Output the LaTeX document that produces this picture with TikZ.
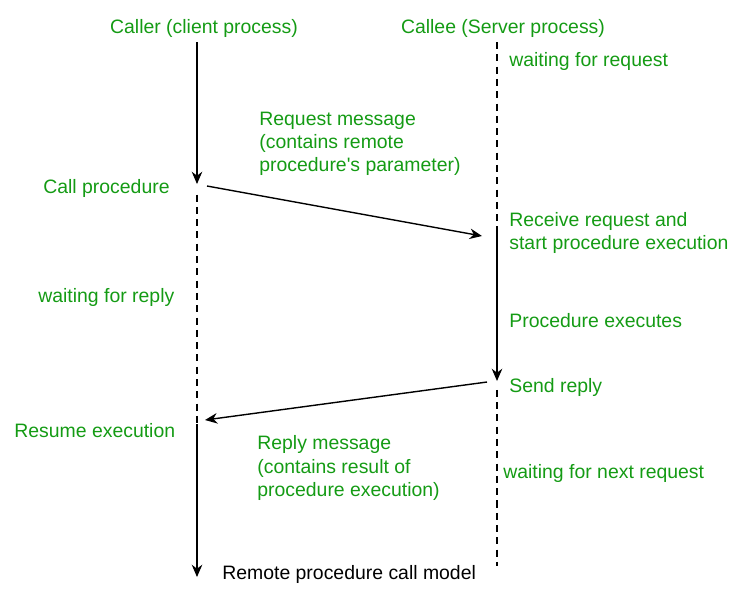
\documentclass[tikz,border=0pt]{standalone}
\usepackage{fontspec}
\setmainfont{Liberation Sans}
\usetikzlibrary{positioning,arrows.meta}
\definecolor{green}{RGB}{20,155,20}

\begin{document}
\begin{tikzpicture}[x=0.02cm,y=-0.02cm,
    lbl/.style={green,anchor=west,inner sep=0pt,align=left,font=\fontsize{11.05}{13.2}\selectfont},
    tip/.style={-{Stealth[length=7pt,width=6pt]}},
    life/.style={black,line width=0.8pt},
    wait/.style={black,line width=0.8pt,dash pattern=on 4pt off 3pt},
    msg/.style={tip,black,line width=0.8pt}]
    \useasboundingbox (0,0) rectangle (739,593);

    % lifelines
    \coordinate (callertop) at (197,42);
    \coordinate (callercall) at (197,184);
    \coordinate (callerresume) at (197,424);
    \coordinate (callerend) at (197,577);
    \coordinate (calleetop) at (497,42);
    \coordinate (calleerecv) at (497,232);
    \coordinate (calleesend) at (497,381);
    \coordinate (calleeend) at (497,566);

    \draw[life,tip] (callertop) -- (callercall);
    \draw[wait] ([yshift=-6]callercall) -- (callerresume);
    \draw[life,tip] (callerresume) -- (callerend);
    \draw[wait] (calleetop) -- (calleerecv);
    \draw[life,tip] (calleerecv) -- (calleesend);
    \draw[wait] ([yshift=-5]calleesend) -- (calleeend);

    % messages
    \coordinate (reqfrom) at (207,186);
    \coordinate (reqto) at (482,236);
    \coordinate (repfrom) at (487,382);
    \coordinate (repto) at (205,420);
    \draw[msg] (reqfrom) -- (reqto);
    \draw[msg] (repfrom) -- (repto);

    % labels
    \node[lbl,anchor=center] (caller) at (204,28) {Caller (client process)};
    \node[lbl,anchor=center] (callee) at (503,28) {Callee (Server process)};
    \node[lbl] (waitreq) at (509,61) {waiting for request};
    \node[lbl] (reqmsg) at (259,144) {Request message\\(contains remote\\procedure\textquotesingle s parameter)};
    \node[lbl] (callproc) at (43,188) {Call procedure};
    \node[lbl] (recv) at (509,233) {Receive request and\\start procedure execution};
    \node[lbl] (waitrep) at (38,297) {waiting for reply};
    \node[lbl] (exec) at (509,321) {Procedure executes};
    \node[lbl] (send) at (509,387) {Send reply};
    \node[lbl] (resume) at (14,431) {Resume execution};
    \node[lbl] (repmsg) at (257,468) {Reply message\\(contains result of\\procedure execution)};
    \node[lbl] (waitnext) at (503,473) {waiting for next request};
    \node[lbl,black] (title) at (222,574) {Remote procedure call model};
\end{tikzpicture}
\end{document}
